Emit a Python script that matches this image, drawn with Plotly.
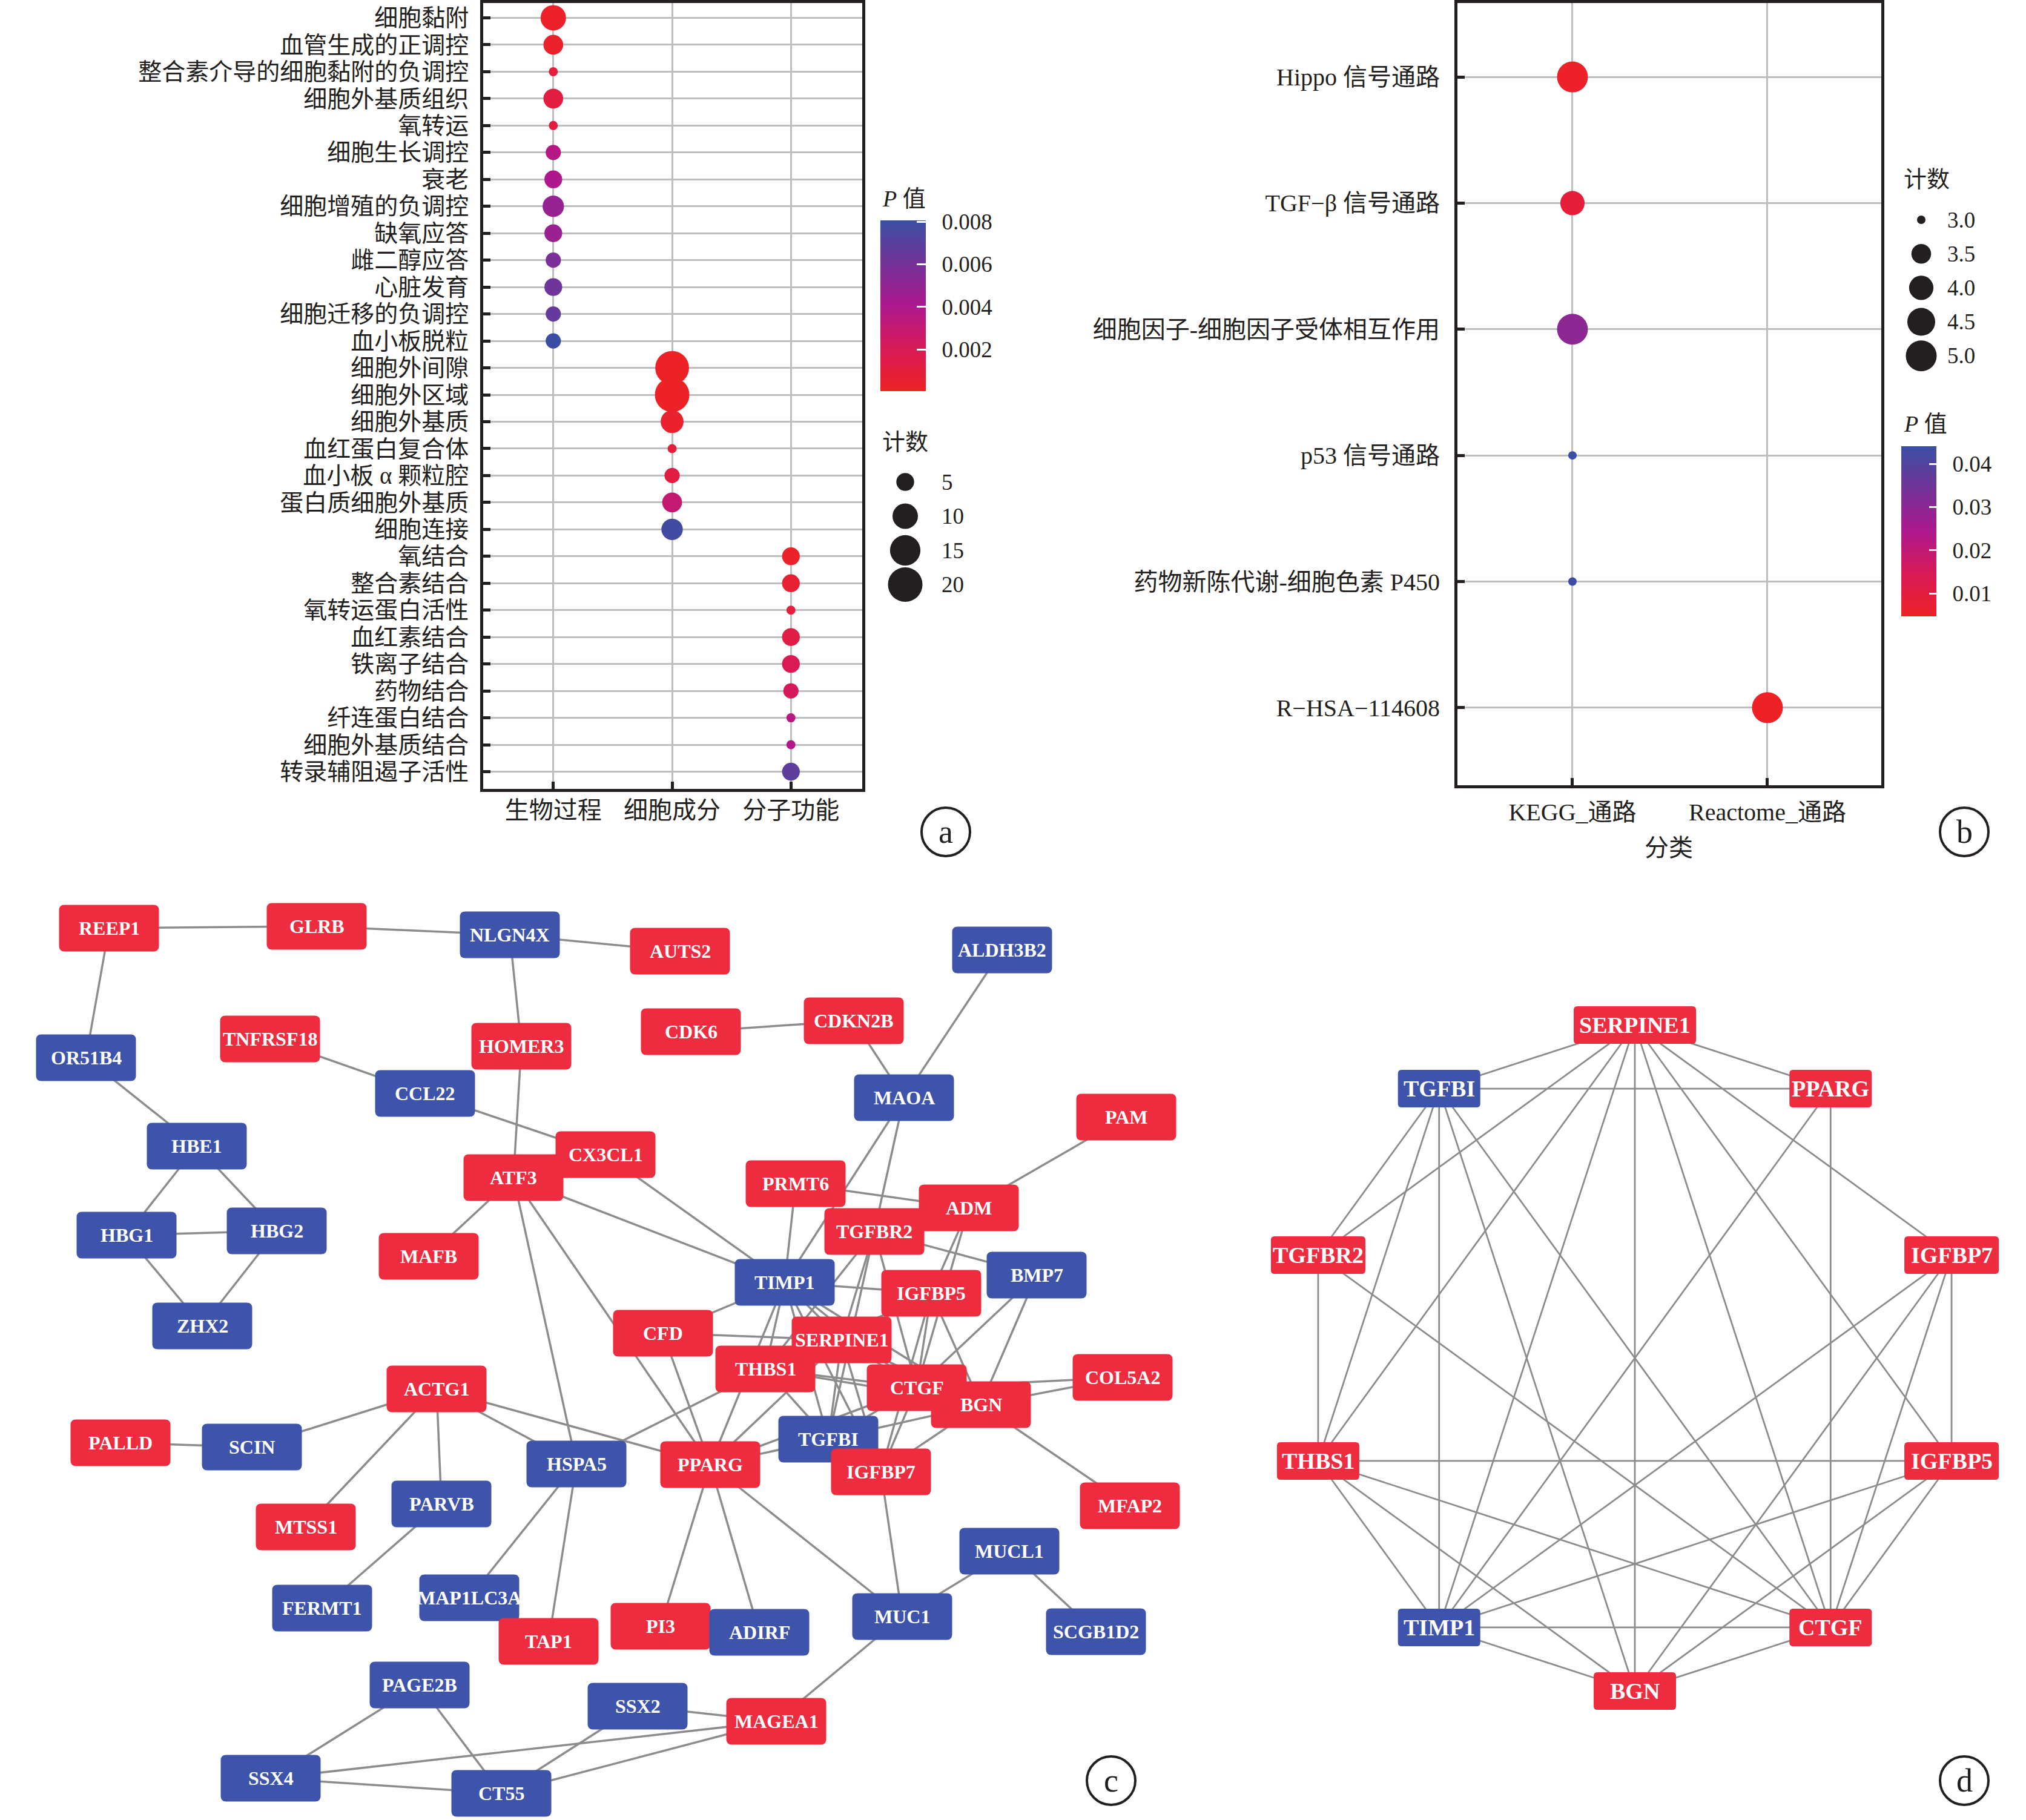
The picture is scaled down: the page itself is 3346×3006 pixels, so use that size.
import numpy as np
import plotly.graph_objects as go

W, H = 3346, 3006
INK = "#231F20"
GRID = "#BEBEBE"
EDGE = "#8C8C8C"
UP = "#EE2C3F"
DOWN = "#3E54AB"
CJK = "Noto Sans CJK SC"
SERIF = "Liberation Serif"
MIXED = "Liberation Serif, Noto Sans CJK SC"
PV_SCALE = [[0.0, "#EE2226"], [0.25, "#D81A57"], [0.5, "#AD188E"],
            [0.75, "#733399"], [1.0, "#3A4FA3"]]

# ---------------- Panel a : GO enrichment ----------------
go_terms = ["细胞黏附", "血管生成的正调控", "整合素介导的细胞黏附的负调控", "细胞外基质组织",
            "氧转运", "细胞生长调控", "衰老", "细胞增殖的负调控", "缺氧应答", "雌二醇应答",
            "心脏发育", "细胞迁移的负调控", "血小板脱粒",
            "细胞外间隙", "细胞外区域", "细胞外基质", "血红蛋白复合体", "血小板 α 颗粒腔",
            "蛋白质细胞外基质", "细胞连接",
            "氧结合", "整合素结合", "氧转运蛋白活性", "血红素结合", "铁离子结合", "药物结合",
            "纤连蛋白结合", "细胞外基质结合", "转录辅阻遏子活性"]
go_class = ["生物过程", "生物过程", "生物过程", "生物过程", "生物过程", "生物过程", "生物过程",
            "生物过程", "生物过程", "生物过程", "生物过程", "生物过程", "生物过程",
            "细胞成分", "细胞成分", "细胞成分", "细胞成分", "细胞成分", "细胞成分", "细胞成分",
            "分子功能", "分子功能", "分子功能", "分子功能", "分子功能", "分子功能", "分子功能",
            "分子功能", "分子功能"]
go_class_order = ["生物过程", "细胞成分", "分子功能"]
go_counts = [10, 6, 3, 6, 3, 4, 5, 7, 5, 4, 5, 4, 4,
             19, 20, 8, 3, 4, 6, 7,
             5, 5, 3, 5, 5, 4, 3, 3, 5]
go_pvalues = [0.0002, 0.0003, 0.0009, 0.0011, 0.0012, 0.0037, 0.0040, 0.0048, 0.0047,
              0.0058, 0.0062, 0.0066, 0.00806,
              0.0001, 0.0001, 0.0004, 0.0009, 0.0012, 0.0030, 0.0078,
              0.0003, 0.0006, 0.0009, 0.0013, 0.0019, 0.0022, 0.0036, 0.0039, 0.0068]
go_p_ticks = [0.002, 0.004, 0.006, 0.008]
go_count_ticks = [5, 10, 15, 20]

# ---------------- Panel b : pathway enrichment ----------------
kegg_terms = ["Hippo 信号通路", "TGF−β 信号通路", "细胞因子-细胞因子受体相互作用",
              "p53 信号通路", "药物新陈代谢-细胞色素 P450", "R−HSA−114608"]
kegg_class = ["KEGG_通路", "KEGG_通路", "KEGG_通路", "KEGG_通路", "KEGG_通路", "Reactome_通路"]
kegg_class_order = ["KEGG_通路", "Reactome_通路"]
kegg_counts = [5, 4, 5, 3, 3, 5]
kegg_pvalues = [0.0055, 0.0085, 0.030, 0.0441, 0.0436, 0.0047]
kegg_p_ticks = [0.01, 0.02, 0.03, 0.04]
kegg_count_ticks = [3.0, 3.5, 4.0, 4.5, 5.0]

# ---------------- Panel c : PPI network (layout coordinates) ----------------
ppi_nodes = ["REEP1", "GLRB", "NLGN4X", "AUTS2", "ALDH3B2", "OR51B4", "TNFRSF18", "HOMER3",
             "CDK6", "CDKN2B", "CCL22", "MAOA", "PAM", "HBE1", "ATF3", "CX3CL1", "PRMT6",
             "ADM", "HBG1", "HBG2", "MAFB", "TGFBR2", "BMP7", "TIMP1", "IGFBP5", "ZHX2",
             "CFD", "SERPINE1", "THBS1", "CTGF", "BGN", "COL5A2", "ACTG1", "PALLD", "SCIN",
             "TGFBI", "HSPA5", "PPARG", "IGFBP7", "MFAP2", "PARVB", "MTSS1", "MUCL1",
             "FERMT1", "MAP1LC3A", "TAP1", "PI3", "ADIRF", "MUC1", "SCGB1D2", "PAGE2B",
             "SSX2", "MAGEA1", "SSX4", "CT55"]
ppi_x = [180, 523, 842, 1123, 1655, 142, 446, 861,
         1141, 1410, 702, 1493, 1860, 325, 848, 1000, 1314,
         1600, 209, 457, 708, 1444, 1712, 1296, 1538, 334,
         1095, 1390, 1264, 1514, 1620, 1854, 721, 199, 416,
         1368, 952, 1173, 1455, 1866, 729, 505, 1667,
         532, 775, 906, 1091, 1254, 1490, 1810, 693,
         1053, 1282, 447, 828]
ppi_y = [1533, 1530, 1544, 1571, 1569, 1747, 1716, 1728,
         1704, 1686, 1806, 1813, 1845, 1893, 1945, 1907, 1955,
         1995, 2040, 2033, 2075, 2034, 2106, 2118, 2136, 2190,
         2202, 2213, 2261, 2292, 2320, 2275, 2294, 2383, 2390,
         2377, 2418, 2419, 2431, 2487, 2484, 2522, 2562,
         2656, 2639, 2711, 2686, 2696, 2670, 2695, 2783,
         2818, 2843, 2937, 2962]
ppi_down = ["NLGN4X", "ALDH3B2", "OR51B4", "CCL22", "MAOA", "HBE1", "HBG1", "HBG2", "ZHX2",
            "BMP7", "TIMP1", "TGFBI", "SCIN", "HSPA5", "PARVB", "FERMT1", "MAP1LC3A",
            "ADIRF", "MUC1", "MUCL1", "SCGB1D2", "PAGE2B", "SSX2", "SSX4", "CT55"]
ppi_edges = [("REEP1", "GLRB"), ("GLRB", "NLGN4X"), ("NLGN4X", "AUTS2"), ("NLGN4X", "HOMER3"),
             ("REEP1", "OR51B4"), ("OR51B4", "HBE1"), ("HBE1", "HBG1"), ("HBE1", "HBG2"),
             ("HBG1", "HBG2"), ("HBG1", "ZHX2"), ("HBG2", "ZHX2"), ("TNFRSF18", "CCL22"),
             ("CCL22", "CX3CL1"), ("HOMER3", "ATF3"), ("CDK6", "CDKN2B"), ("CDKN2B", "MAOA"),
             ("ALDH3B2", "MAOA"), ("MAOA", "TGFBR2"), ("MAOA", "TIMP1"), ("PAM", "ADM"),
             ("PRMT6", "ADM"), ("PRMT6", "TIMP1"), ("CX3CL1", "TIMP1"), ("ATF3", "MAFB"),
             ("ATF3", "TIMP1"), ("ATF3", "HSPA5"), ("ATF3", "PPARG"), ("TGFBR2", "BMP7"),
             ("ADM", "IGFBP5"), ("ADM", "CTGF"), ("BMP7", "CTGF"), ("BMP7", "BGN"),
             ("COL5A2", "BGN"), ("COL5A2", "CTGF"), ("BGN", "MFAP2"), ("CFD", "TIMP1"),
             ("CFD", "SERPINE1"), ("CFD", "PPARG"), ("THBS1", "HSPA5"), ("ACTG1", "SCIN"),
             ("ACTG1", "MTSS1"), ("ACTG1", "PARVB"), ("ACTG1", "HSPA5"), ("ACTG1", "PPARG"),
             ("PALLD", "SCIN"), ("PARVB", "FERMT1"), ("HSPA5", "MAP1LC3A"), ("HSPA5", "TAP1"),
             ("PPARG", "PI3"), ("PPARG", "ADIRF"), ("PPARG", "MUC1"), ("MUC1", "IGFBP7"),
             ("MUC1", "MUCL1"), ("MUCL1", "SCGB1D2"), ("MUC1", "MAGEA1"), ("SSX2", "MAGEA1"),
             ("SSX2", "CT55"), ("PAGE2B", "SSX4"), ("PAGE2B", "CT55"), ("SSX4", "MAGEA1"),
             ("SSX4", "CT55"), ("CT55", "MAGEA1")]

# ---------------- Panel d : hub-gene module ----------------
hub_genes = ["SERPINE1", "PPARG", "IGFBP7", "IGFBP5", "CTGF", "BGN", "TIMP1", "THBS1",
             "TGFBR2", "TGFBI"]
hub_down = ["TIMP1", "TGFBI"]
hub_edges = [("SERPINE1", "TGFBI"), ("SERPINE1", "PPARG"), ("SERPINE1", "TGFBR2"),
             ("SERPINE1", "THBS1"), ("SERPINE1", "TIMP1"), ("SERPINE1", "BGN"),
             ("SERPINE1", "CTGF"), ("SERPINE1", "IGFBP5"), ("SERPINE1", "IGFBP7"),
             ("TGFBI", "PPARG"), ("TGFBI", "TGFBR2"), ("TGFBI", "THBS1"), ("TGFBI", "TIMP1"),
             ("TGFBI", "BGN"), ("TGFBI", "CTGF"), ("PPARG", "CTGF"), ("PPARG", "TIMP1"),
             ("IGFBP7", "TIMP1"), ("IGFBP7", "BGN"), ("IGFBP7", "CTGF"), ("IGFBP7", "IGFBP5"),
             ("IGFBP5", "THBS1"), ("IGFBP5", "TIMP1"), ("IGFBP5", "BGN"), ("IGFBP5", "CTGF"),
             ("THBS1", "TGFBR2"), ("THBS1", "CTGF"), ("THBS1", "TIMP1"), ("THBS1", "BGN"),
             ("TGFBR2", "CTGF"), ("BGN", "TIMP1"), ("BGN", "CTGF"), ("TIMP1", "CTGF")]


def area_size(values, vmin, vmax, dmin, dmax):
    v = (np.asarray(values, float) - vmin) / (vmax - vmin)
    return dmin + (dmax - dmin) * np.sqrt(np.clip(v, 0, 1))


def px_x(px):
    return px / W


def px_y(py):
    return 1 - py / H


def rounded_rect(cx, cy, w, h, r):
    x0, x1 = cx - w / 2, cx + w / 2
    y0, y1 = cy - h / 2, cy + h / 2
    return (f"M{x0 + r},{y0} L{x1 - r},{y0} Q{x1},{y0} {x1},{y0 + r} L{x1},{y1 - r} "
            f"Q{x1},{y1} {x1 - r},{y1} L{x0 + r},{y1} Q{x0},{y1} {x0},{y1 - r} "
            f"L{x0},{y0 + r} Q{x0},{y0} {x0 + r},{y0} Z")


SIZE_A = (3, 20, 15, 57)
SIZE_B = (3, 5, 14, 51)

fig = go.Figure()
shapes, annots = [], []

# ---- panel a bubbles
fig.add_trace(go.Scatter(
    x=go_class, y=go_terms, mode="markers", xaxis="x", yaxis="y", showlegend=False,
    marker=dict(size=area_size(go_counts, *SIZE_A), sizemode="diameter", color=go_pvalues,
                opacity=1, colorscale=PV_SCALE, cmin=0.00005, cmax=0.00806, line=dict(width=0),
                colorbar=dict(x=px_x(1454), xanchor="left", y=px_y((364 + 646) / 2),
                              yanchor="middle", len=282, lenmode="pixels", thickness=75,
                              outlinewidth=0, xpad=0, ypad=0, tickvals=go_p_ticks,
                              ticktext=["\u00a0\u00a0" + f"{v:.3f}" for v in go_p_ticks],
                              ticks="inside", ticklen=15, tickwidth=3, tickcolor="white",
                              tickfont=dict(family=SERIF, size=37, color=INK)))))

# ---- panel b bubbles
fig.add_trace(go.Scatter(
    x=kegg_class, y=kegg_terms, mode="markers", xaxis="x2", yaxis="y2", showlegend=False,
    marker=dict(size=area_size(kegg_counts, *SIZE_B), sizemode="diameter", color=kegg_pvalues,
                opacity=1, colorscale=PV_SCALE, cmin=0.00467, cmax=0.0441, line=dict(width=0),
                colorbar=dict(x=px_x(3140), xanchor="left", y=px_y((737 + 1018) / 2),
                              yanchor="middle", len=281, lenmode="pixels", thickness=58,
                              outlinewidth=0, xpad=0, ypad=0, tickvals=kegg_p_ticks,
                              ticktext=["\u00a0\u00a0" + f"{v:.2f}" for v in kegg_p_ticks],
                              ticks="inside", ticklen=12, tickwidth=3, tickcolor="white",
                              tickfont=dict(family=SERIF, size=37, color=INK)))))

# ---- size legends (overlay pixel axes)
leg_a_y = [796 + 56.5 * i for i in range(len(go_count_ticks))]
fig.add_trace(go.Scatter(x=[1495] * len(go_count_ticks), y=leg_a_y, mode="markers",
                         xaxis="x3", yaxis="y3", showlegend=False, hoverinfo="skip",
                         marker=dict(size=area_size(go_count_ticks, *SIZE_A), color=INK,
                                     opacity=1, line=dict(width=0))))
for v, yy in zip(go_count_ticks, leg_a_y):
    annots.append(dict(x=1553, y=yy, xref="x3", yref="y3", text=str(v), showarrow=False,
                       xanchor="left", yanchor="middle",
                       font=dict(family=SERIF, size=37, color=INK)))
annots.append(dict(x=1455, y=328, xref="x3", yref="y3", text="<i>P</i> 值", showarrow=False,
                   xanchor="left", yanchor="middle", font=dict(family=MIXED, size=38, color=INK)))
annots.append(dict(x=1455, y=730, xref="x3", yref="y3", text="计数", showarrow=False,
                   xanchor="left", yanchor="middle", font=dict(family=MIXED, size=38, color=INK)))

leg_b_y = [363 + 56.2 * i for i in range(len(kegg_count_ticks))]
fig.add_trace(go.Scatter(x=[3173] * len(kegg_count_ticks), y=leg_b_y, mode="markers",
                         xaxis="x3", yaxis="y3", showlegend=False, hoverinfo="skip",
                         marker=dict(size=area_size(kegg_count_ticks, *SIZE_B), color=INK,
                                     opacity=1, line=dict(width=0))))
for v, yy in zip(kegg_count_ticks, leg_b_y):
    annots.append(dict(x=3214, y=yy, xref="x3", yref="y3", text=f"{v:.1f}", showarrow=False,
                       xanchor="left", yanchor="middle",
                       font=dict(family=SERIF, size=37, color=INK)))
annots.append(dict(x=3142, y=700, xref="x3", yref="y3", text="<i>P</i> 值", showarrow=False,
                   xanchor="left", yanchor="middle", font=dict(family=MIXED, size=38, color=INK)))
annots.append(dict(x=3142, y=296, xref="x3", yref="y3", text="计数", showarrow=False,
                   xanchor="left", yanchor="middle", font=dict(family=MIXED, size=38, color=INK)))
annots.append(dict(x=2756, y=1400, xref="x3", yref="y3", text="分类", showarrow=False,
                   xanchor="center", yanchor="middle", font=dict(family=MIXED, size=40, color=INK)))

# ---- panel c network
pos_c = {n: (x, y) for n, x, y in zip(ppi_nodes, ppi_x, ppi_y)}
ex, ey = [], []
for a, b in ppi_edges + hub_edges:
    ex += [pos_c[a][0], pos_c[b][0], None]
    ey += [pos_c[a][1], pos_c[b][1], None]
fig.add_trace(go.Scatter(x=ex, y=ey, mode="lines", xaxis="x3", yaxis="y3", showlegend=False,
                         hoverinfo="skip", line=dict(color=EDGE, width=3.5)))
for n in ppi_nodes:
    cx, cy = pos_c[n]
    shapes.append(dict(type="path", xref="x3", yref="y3", layer="above",
                       path=rounded_rect(cx, cy, 165, 77, 9), line=dict(width=0),
                       fillcolor=DOWN if n in ppi_down else UP))
    annots.append(dict(x=cx, y=cy, xref="x3", yref="y3", text=f"<b>{n}</b>", showarrow=False,
                       xanchor="center", yanchor="middle",
                       font=dict(family=SERIF, size=32, color="white")))

# ---- panel d circular module
cx0, cy0, rad = 2700, 2243, 550
ang = np.deg2rad(90 - 36 * np.arange(len(hub_genes)))
pos_d = {g: (cx0 + rad * np.cos(t), cy0 - rad * np.sin(t)) for g, t in zip(hub_genes, ang)}
dx, dy = [], []
for a, b in hub_edges:
    dx += [pos_d[a][0], pos_d[b][0], None]
    dy += [pos_d[a][1], pos_d[b][1], None]
fig.add_trace(go.Scatter(x=dx, y=dy, mode="lines", xaxis="x3", yaxis="y3", showlegend=False,
                         hoverinfo="skip", line=dict(color=EDGE, width=2.8)))
for g in hub_genes:
    cx, cy = pos_d[g]
    w = max(136, 23 * len(g) + 18)
    shapes.append(dict(type="path", xref="x3", yref="y3", layer="above",
                       path=rounded_rect(cx, cy, w, 62, 6), line=dict(width=0),
                       fillcolor=DOWN if g in hub_down else UP))
    annots.append(dict(x=cx, y=cy, xref="x3", yref="y3", text=f"<b>{g}</b>", showarrow=False,
                       xanchor="center", yanchor="middle",
                       font=dict(family=SERIF, size=38, color="white")))

# ---- panel tags
for letter, (lx, ly) in zip(["a", "b", "c", "d"],
                            [(1562, 1374), (3244, 1374), (1835, 2941), (3244, 2941)]):
    shapes.append(dict(type="circle", xref="x3", yref="y3", layer="above",
                       x0=lx - 40, x1=lx + 40, y0=ly - 40, y1=ly + 40,
                       line=dict(color=INK, width=4), fillcolor="rgba(0,0,0,0)"))
    annots.append(dict(x=lx, y=ly, xref="x3", yref="y3", text=letter, showarrow=False,
                       xanchor="center", yanchor="middle",
                       font=dict(family=SERIF, size=54, color=INK)))

frame = dict(showline=True, linecolor=INK, linewidth=5, mirror=True, showgrid=True,
             gridcolor=GRID, gridwidth=3, ticks="inside", ticklen=12, tickwidth=5,
             tickcolor=INK, zeroline=False, type="category", categoryorder="array",
             fixedrange=True, tickmode="array")

fig.update_layout(
    width=W, height=H, autosize=False, margin=dict(l=0, r=0, t=0, b=0),
    paper_bgcolor="white", plot_bgcolor="rgba(0,0,0,0)", showlegend=False,
    xaxis=dict(domain=[px_x(798), px_x(1424)], range=[-0.59, 2.6],
               categoryarray=go_class_order, tickvals=go_class_order, ticktext=go_class_order,
               anchor="y", ticklabelstandoff=-4,
               tickfont=dict(family=MIXED, size=40, color=INK), **frame),
    yaxis=dict(domain=[px_y(1303), px_y(5)], range=[28.64, -0.55],
               categoryarray=go_terms, tickvals=go_terms, ticktext=go_terms,
               anchor="x", ticklabelstandoff=11,
               tickfont=dict(family=MIXED, size=39, color=INK), **frame),
    xaxis2=dict(domain=[px_x(2407), px_x(3107)], range=[-0.59, 1.584],
                categoryarray=kegg_class_order, tickvals=kegg_class_order,
                ticktext=kegg_class_order, anchor="y2", ticklabelstandoff=5,
                tickfont=dict(family=MIXED, size=40, color=INK), **frame),
    yaxis2=dict(domain=[px_y(1297), px_y(5)], range=[5.615, -0.586],
                categoryarray=kegg_terms, tickvals=kegg_terms, ticktext=kegg_terms,
                anchor="x2", ticklabelstandoff=16,
                tickfont=dict(family=MIXED, size=40, color=INK), **frame),
    xaxis3=dict(domain=[0, 1], range=[0, W], visible=False, fixedrange=True, anchor="y3"),
    yaxis3=dict(domain=[0, 1], range=[H, 0], visible=False, fixedrange=True, anchor="x3"),
    shapes=shapes, annotations=annots,
)

fig.write_html("out.html", config={"displayModeBar": False},
               post_script="document.body.style.margin='0px';"
                           "document.body.style.overflow='hidden';")
